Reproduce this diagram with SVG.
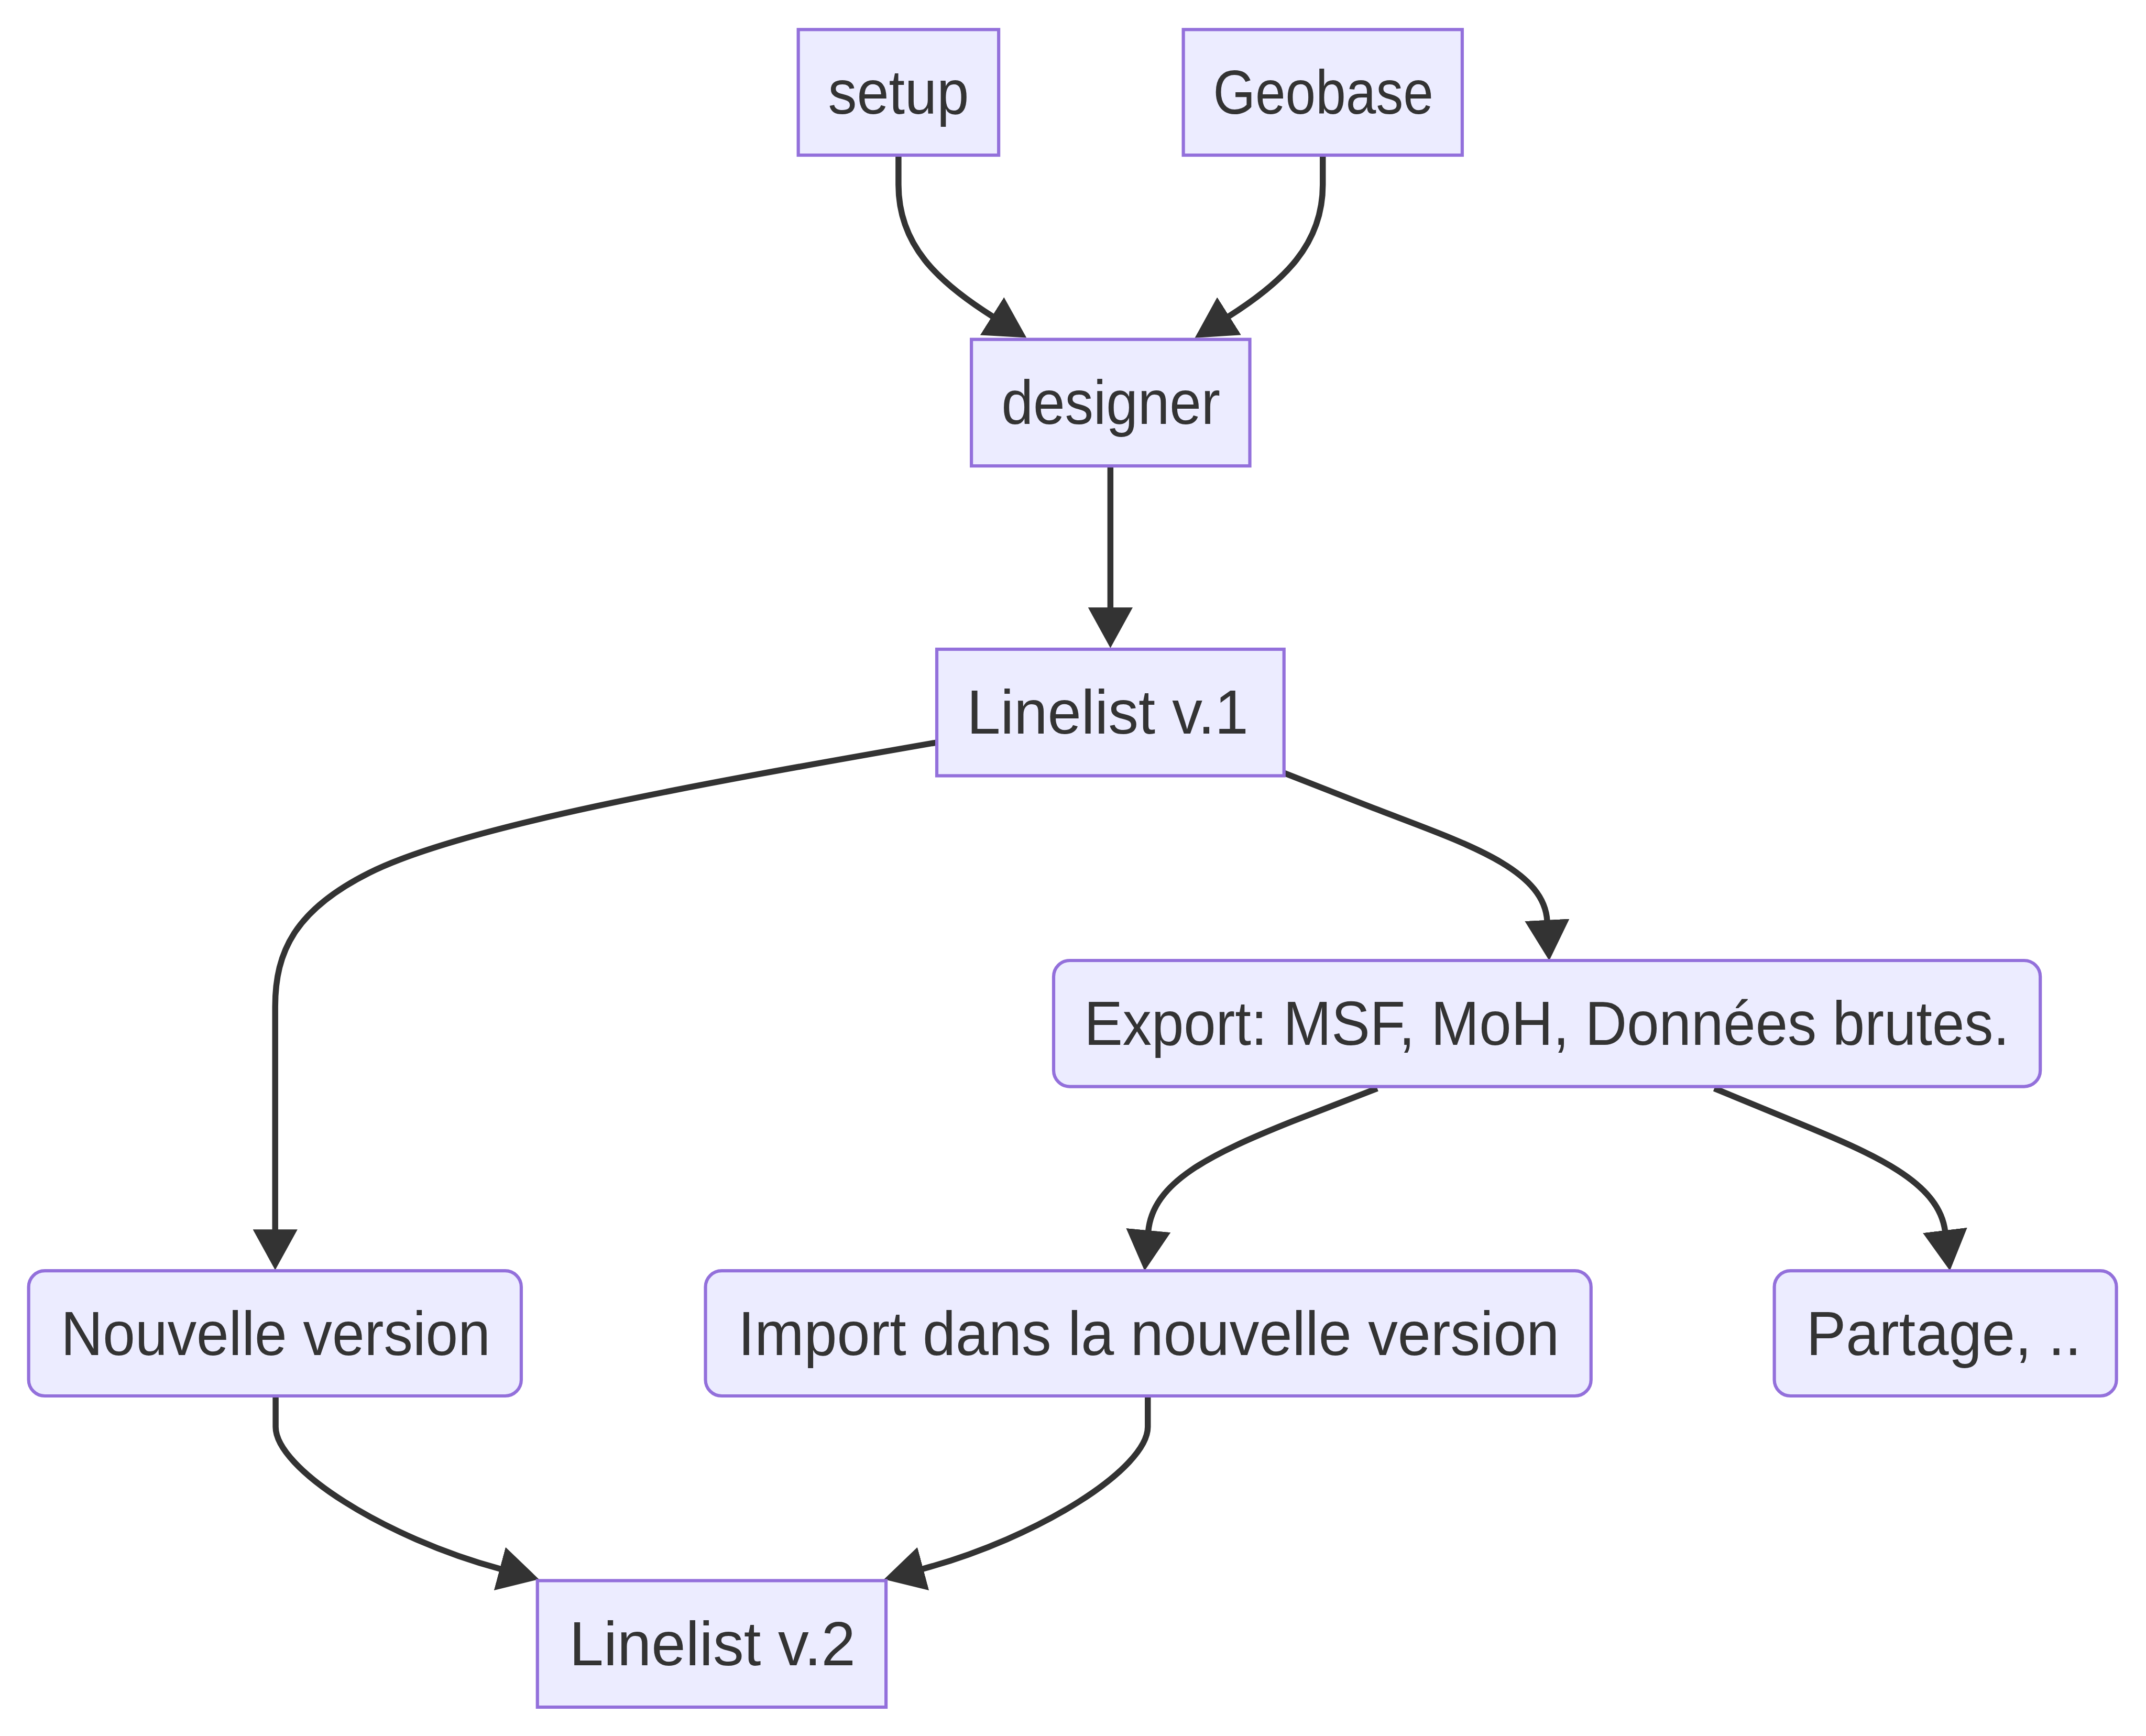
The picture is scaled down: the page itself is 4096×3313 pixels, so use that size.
<svg xmlns="http://www.w3.org/2000/svg" width="4096" height="3313" viewBox="0 0 4096 3313">
<style>
.node rect{fill:#ECECFF;stroke:#9370DB;stroke-width:7}
.node text{font-family:"Liberation Sans",Arial,sans-serif;font-size:134px;fill:#333333;text-anchor:middle}
.edge{fill:none;stroke:#333333;stroke-width:13;marker-end:url(#arrow)}
</style>
<defs>
<marker id="arrow" viewBox="0 0 10 11" refX="0.3" refY="5.5" markerWidth="88" markerHeight="96.8" markerUnits="userSpaceOnUse" orient="auto">
<path d="M0,0 L10,5.5 L0,11 z" fill="#333333"/>
</marker>
</defs>
<rect x="0" y="0" width="4096" height="3313" fill="#ffffff"/>
<g transform="scale(0.88124)">
<g id="connectors">
<path class="edge" d="M1946,336 L1946,400 C1946,530 2030,610 2151,686"/>
<path class="edge" d="M2865,336 L2865,400 C2865,530 2780,610 2660,686"/>
<path class="edge" d="M2405,1009 L2405,1318"/>
<path class="edge" d="M2028,1608 C1500,1700 1000,1790 800,1890 C640,1970 596,2060 596,2180 L596,2665"/>
<path class="edge" d="M2781,1674 L2975,1750 C3170,1825 3345,1880 3351,1995"/>
<path class="edge" d="M2983,2357 L2800,2428 C2620,2500 2497,2560 2487,2667"/>
<path class="edge" d="M3713,2357 L3890,2430 C4060,2500 4200,2560 4213,2667"/>
<path class="edge" d="M597,3023 L597,3090 C597,3180 832,3330 1085,3398"/>
<path class="edge" d="M2486,3023 L2486,3090 C2486,3180 2250,3330 1997,3398"/>
</g>
<g id="setup" class="node"><rect x="1729" y="64" width="434" height="272"/><text x="1946" y="246" textLength="305" lengthAdjust="spacingAndGlyphs">setup</text></g>
<g id="geobase" class="node"><rect x="2563" y="64" width="604" height="272"/><text x="2866" y="246" textLength="477" lengthAdjust="spacingAndGlyphs">Geobase</text></g>
<g id="designer" class="node"><rect x="2104" y="735" width="603" height="274"/><text x="2406" y="918" textLength="474" lengthAdjust="spacingAndGlyphs">designer</text></g>
<g id="linelist1" class="node"><rect x="2029" y="1406" width="752" height="274"/><text x="2399" y="1589" textLength="610" lengthAdjust="spacingAndGlyphs">Linelist v.1</text></g>
<g id="export" class="node"><rect x="2282" y="2080" width="2137" height="273" rx="35" ry="35"/><text x="3350" y="2263" textLength="2004" lengthAdjust="spacingAndGlyphs">Export: MSF, MoH, Données brutes.</text></g>
<g id="nouvelle" class="node"><rect x="62" y="2752" width="1067" height="271" rx="35" ry="35"/><text x="597" y="2934" textLength="930" lengthAdjust="spacingAndGlyphs">Nouvelle version</text></g>
<g id="import" class="node"><rect x="1528" y="2752" width="1918" height="271" rx="35" ry="35"/><text x="2488" y="2934" textLength="1779" lengthAdjust="spacingAndGlyphs">Import dans la nouvelle version</text></g>
<g id="partage" class="node"><rect x="3843" y="2752" width="741" height="271" rx="35" ry="35"/><text x="4210" y="2934" textLength="596" lengthAdjust="spacingAndGlyphs">Partage, ..</text></g>
<g id="linelist2" class="node"><rect x="1164" y="3423" width="755" height="274"/><text x="1543" y="3606" textLength="620" lengthAdjust="spacingAndGlyphs">Linelist v.2</text></g>
</g>
</svg>
